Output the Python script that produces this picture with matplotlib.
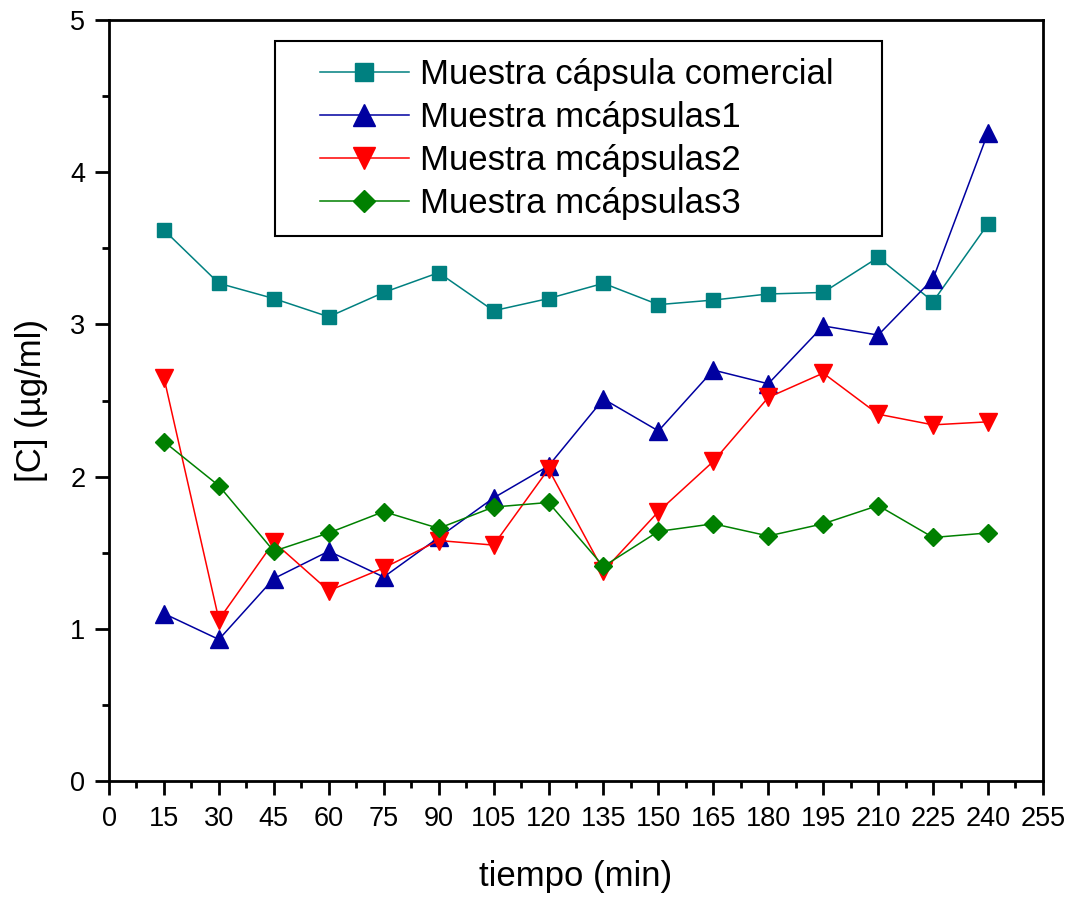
import numpy as np
import matplotlib
matplotlib.use("Agg")
import matplotlib.pyplot as plt
from matplotlib.ticker import MultipleLocator
from matplotlib.patches import Rectangle

plt.rcParams['font.family'] = ['Liberation Sans', 'DejaVu Sans']

# tiempo (min)
tiempo = [15, 30, 45, 60, 75, 90, 105, 120, 135, 150, 165, 180, 195, 210, 225, 240]

# concentraciones
comercial = [3.62, 3.27, 3.17, 3.05, 3.21, 3.34, 3.09, 3.17, 3.27, 3.13, 3.16, 3.20, 3.21, 3.44, 3.15, 3.66]
mcaps1 = [1.10, 0.93, 1.33, 1.51, 1.34, 1.60, 1.86, 2.07, 2.51, 2.30, 2.70, 2.61, 2.99, 2.93, 3.30, 4.26]
mcaps2 = [2.65, 1.06, 1.57, 1.25, 1.40, 1.58, 1.55, 2.05, 1.38, 1.77, 2.10, 2.52, 2.68, 2.41, 2.34, 2.36]
mcaps3 = [2.23, 1.94, 1.51, 1.63, 1.77, 1.66, 1.80, 1.83, 1.41, 1.64, 1.69, 1.61, 1.69, 1.81, 1.60, 1.63]

labels = ["Muestra cápsula comercial", "Muestra mcápsulas1",
          "Muestra mcápsulas2", "Muestra mcápsulas3"]
xticks = list(range(0, 256, 15))

fig = plt.figure(figsize=(10.75, 8.98), dpi=100)
ax = fig.add_axes([0.1014, 0.1303, 0.8688, 0.8474])

ax.plot(tiempo, comercial, '-s', color='#008080', lw=1.1, ms=10, label=labels[0])
ax.plot(tiempo, mcaps1, '-^', color='#0000A0', lw=1.1, ms=13, label=labels[1])
ax.plot(tiempo, mcaps2, '-v', color='#FF0000', lw=1.1, ms=13, label=labels[2])
ax.plot(tiempo, mcaps3, '-D', color='#008000', lw=1.1, ms=9, label=labels[3])

ax.set_xlim(0, 255)
ax.set_ylim(0, 5)
ax.set_xticks(xticks)
ax.xaxis.set_minor_locator(MultipleLocator(7.5))
ax.yaxis.set_major_locator(MultipleLocator(1))
ax.yaxis.set_minor_locator(MultipleLocator(0.5))
ax.tick_params(which='major', direction='out', length=10, width=2, labelsize=19.5)
ax.tick_params(which='minor', direction='out', length=5, width=2)
ax.tick_params(axis='x', which='major', pad=8)
ax.tick_params(axis='y', which='major', pad=7)
for s in ax.spines.values():
    s.set_linewidth(2)

ax.set_xlabel("tiempo (min)", fontsize=25, labelpad=20)
ax.set_ylabel("[C] (µg/ml)", fontsize=25, labelpad=16)

# marco de la leyenda
ax.add_patch(Rectangle((0.1777, 0.7162), 0.6499, 0.2562, transform=ax.transAxes,
                       fill=False, edgecolor='black', lw=1.5, zorder=5))
leg = ax.legend(loc='upper left', bbox_to_anchor=(0.2259, 0.950), fontsize=25,
                frameon=False, markerscale=1.25,
                handlelength=2.56, labelspacing=0.29, borderpad=0, handletextpad=0.32,
                borderaxespad=0)

fig.savefig("out.png", dpi=100)
